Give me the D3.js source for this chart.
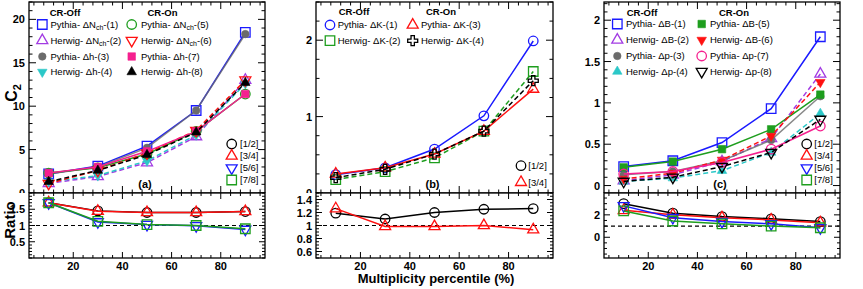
<!DOCTYPE html>
<html>
<head>
<meta charset="utf-8">
<script src="https://cdn.jsdelivr.net/npm/d3@7"></script>
<style>
  body { margin: 0; background: #fff; }
  svg { display: block; font-family: "Liberation Sans", Arial, sans-serif; }
</style>
</head>
<body>
<svg id="chart" width="863" height="289"></svg>
<script>
// multiplicity percentile bins
const pct = [10, 30, 50, 70, 90];

// panel (a): C2 of net charge / net hadron
const aPyNchOff = [2.2, 3.1, 5.4, 9.5, 18.5];
const aHwNchOff = [1.1, 1.9, 3.5, 6.5, 13.0];
const aPyHOff   = [2.2, 3.0, 5.2, 9.5, 18.3];
const aHwHOff   = [1.3, 2.0, 3.7, 6.7, 12.6];
const aPyNchOn  = [2.3, 2.9, 4.5, 7.1, 11.4];
const aHwNchOn  = [1.1, 2.6, 4.6, 7.2, 13.0];
const aPyHOn    = [2.3, 3.0, 4.8, 7.1, 11.4];
const aHwHOn    = [1.3, 2.6, 4.4, 7.0, 12.7];
const aR12 = [1.70, 1.45, 1.40, 1.40, 1.43];
const aR34 = [1.70, 1.44, 1.40, 1.40, 1.43];
const aR56 = [1.70, 1.11, 1.03, 0.99, 0.88];
const aR78 = [1.70, 1.13, 1.03, 1.00, 0.90];

// panel (b): C2 of net kaon
const bPyOff = [0.24, 0.33, 0.575, 1.01, 1.99];
const bHwOff = [0.175, 0.28, 0.46, 0.81, 1.59];
const bPyOn  = [0.25, 0.33, 0.51, 0.81, 1.36];
const bHwOn  = [0.20, 0.31, 0.51, 0.81, 1.47];
const bR12 = [1.19, 1.10, 1.20, 1.25, 1.26];
const bR34 = [1.26, 0.985, 0.985, 1.00, 0.935];

// panel (c): C2 of net baryon / net proton
const cPyBOff = [0.23, 0.30, 0.52, 0.93, 1.80];
const cHwBOff = [0.06, 0.13, 0.29, 0.57, 1.35];
const cPyPOff = [0.13, 0.17, 0.30, 0.55, 1.08];
const cHwPOff = [0.05, 0.09, 0.18, 0.40, 0.87];
const cPyBOn  = [0.22, 0.29, 0.44, 0.68, 1.10];
const cHwBOn  = [0.08, 0.15, 0.31, 0.60, 1.25];
const cPyPOn  = [0.14, 0.17, 0.28, 0.44, 0.72];
const cHwPOn  = [0.05, 0.10, 0.23, 0.40, 0.80];
const cR12 = [3.00, 2.15, 1.85, 1.65, 1.40];
const cR34 = [2.40, 2.00, 1.75, 1.55, 1.30];
const cR56 = [2.80, 1.75, 1.40, 1.20, 0.85];
const cR78 = [2.35, 1.45, 1.20, 1.00, 0.85];

const ratioLabels = ['[1/2]', '[3/4]', '[5/6]', '[7/8]'];

// colours
const BLUE = '#1a1aff', PURPLE = '#a23be3', GRAY = '#6b6b6b', CYAN = '#2bc8c8',
      GREEN = '#1e9e1e', RED = '#ff1010', PINK = '#f5208f', BLACK = '#000';

const svg = d3.select('#chart');
const topY = 2, midY = 193, botY = 258;

function symPath(shape, s) {
    if (shape === 'square') return d3.symbol(d3.symbolSquare, s * s)();
    if (shape === 'circle') return d3.symbol(d3.symbolCircle, Math.PI * s * s / 4)();
    if (shape === 'tri' || shape === 'dtri') return d3.symbol(d3.symbolTriangle, s * s * Math.sqrt(3) / 4)();
    if (shape === 'cross') return d3.symbol(d3.symbolCross, 5 * s * s / 9)();
}

function marker(g, x, y, m) {
    let s = m.open ? 9.5 : 7.5;
    if (m.shape === 'tri' || m.shape === 'dtri') s = m.open ? 11 : 9.5;
    if (m.shape === 'cross') s = 10;
    g.append('path')
        .attr('d', symPath(m.shape, s))
        .attr('transform', `translate(${x},${y})` + (m.shape === 'dtri' ? ' rotate(180)' : ''))
        .attr('fill', m.open ? 'none' : m.color)
        .attr('stroke', m.color)
        .attr('stroke-width', m.open ? 1.3 : 0.6);
}

function legendText(g, x, y, lab, bold) {
    const t = g.append('text').attr('x', x).attr('y', y)
        .style('font-size', '9.5px').style('font-weight', bold ? 'bold' : 'normal');
    t.append('tspan').text(lab.pre);
    if (lab.sub) {
        t.append('tspan').attr('dy', 2.5).style('font-size', '7px').text(lab.sub);
        t.append('tspan').attr('dy', -2.5).text(lab.post);
    }
    return t;
}

// ticks on all four sides, pointing inward
function frameTicks(g, x, y, xMaj, xMin, yMaj, yMin, lenX, lenY) {
    const [x0, x1] = x.range(), [y0, y1] = y.range();
    const seg = (a, b, c, d) => g.append('line').attr('x1', a).attr('y1', b).attr('x2', c).attr('y2', d)
        .attr('stroke', '#000').attr('stroke-width', 1);
    xMaj.forEach(v => { seg(x(v), y0, x(v), y0 - lenX); seg(x(v), y1, x(v), y1 + lenX); });
    xMin.forEach(v => { seg(x(v), y0, x(v), y0 - lenX / 2); seg(x(v), y1, x(v), y1 + lenX / 2); });
    yMaj.forEach(v => { seg(x0, y(v), x0 + lenY, y(v)); seg(x1, y(v), x1 - lenY, y(v)); });
    yMin.forEach(v => { seg(x0, y(v), x0 + lenY / 2, y(v)); seg(x1, y(v), x1 - lenY / 2, y(v)); });
    g.append('rect').attr('x', x0).attr('y', y1).attr('width', x1 - x0).attr('height', y0 - y1)
        .attr('fill', 'none').attr('stroke', '#000').attr('stroke-width', 1.3);
}

function minors(dom, step, majors) {
    const out = [];
    const start = Math.ceil(dom[0] / step - 1e-6) * step;
    for (let v = start; v <= dom[1] + 1e-9; v += step) {
        const r = Math.round(v * 1000) / 1000;
        if (!majors.some(m => Math.abs(m - r) < 1e-6)) out.push(r);
    }
    return out;
}

const xMajor = [20, 40, 60, 80];
const xDom = [2, 98];

const panels = [
    {
        x0: 29, x1: 265, padL: 0, padR: 290, tag: '(a)',
        yDom: [0, 22], yMaj: [0, 5, 10, 15, 20], yStep: 1,
        rDom: [0, 2], rMaj: [0.5, 1, 1.5], rStep: 0.1,
        series: [
            { v: aPyNchOff, color: BLUE, shape: 'square', open: true, dash: false, lab: { pre: 'Pythia- ΔN', sub: 'ch', post: '-(1)' } },
            { v: aHwNchOff, color: PURPLE, shape: 'tri', open: true, dash: true, lab: { pre: 'Herwig- ΔN', sub: 'ch', post: '-(2)' } },
            { v: aPyHOff, color: GRAY, shape: 'circle', open: false, dash: false, lab: { pre: 'Pythia- Δh-(3)' } },
            { v: aHwHOff, color: CYAN, shape: 'dtri', open: false, dash: true, lab: { pre: 'Herwig- Δh-(4)' } },
            { v: aPyNchOn, color: GREEN, shape: 'circle', open: true, dash: false, lab: { pre: 'Pythia- ΔN', sub: 'ch', post: '-(5)' } },
            { v: aHwNchOn, color: RED, shape: 'dtri', open: true, dash: true, lab: { pre: 'Herwig- ΔN', sub: 'ch', post: '-(6)' } },
            { v: aPyHOn, color: PINK, shape: 'square', open: false, dash: false, lab: { pre: 'Pythia- Δh-(7)' } },
            { v: aHwHOn, color: BLACK, shape: 'tri', open: false, dash: true, lab: { pre: 'Herwig- Δh-(8)' } }
        ],
        ratios: [
            { v: aR12, color: BLACK, shape: 'circle' },
            { v: aR34, color: RED, shape: 'tri' },
            { v: aR56, color: BLUE, shape: 'dtri' },
            { v: aR78, color: GREEN, shape: 'square' }
        ],
        head: [65, 162.5], headY: 15.5,
        cols: [{ mx: 42.3, tx: 50.5 }, { mx: 131.7, tx: 141 }],
        rows: [24.5, 40.5, 56.5, 72],
        rl: { mx: 231.7, tx: 240, ys: [144, 156, 168, 180] }
    },
    {
        x0: 316, x1: 553, padL: 290, padR: 575, tag: '(b)',
        yDom: [0, 2.5], yMaj: [0, 1, 2], yStep: 0.25,
        rDom: [0.5, 1.5], rMaj: [0.6, 0.8, 1, 1.2, 1.4], rStep: 0.05,
        series: [
            { v: bPyOff, color: BLUE, shape: 'circle', open: true, dash: false, lab: { pre: 'Pythia- ΔK-(1)' } },
            { v: bHwOff, color: GREEN, shape: 'square', open: true, dash: true, lab: { pre: 'Herwig- ΔK-(2)' } },
            { v: bPyOn, color: RED, shape: 'tri', open: true, dash: false, lab: { pre: 'Pythia- ΔK-(3)' } },
            { v: bHwOn, color: BLACK, shape: 'cross', open: true, dash: true, lab: { pre: 'Herwig- ΔK-(4)' } }
        ],
        ratios: [
            { v: bR12, color: BLACK, shape: 'circle' },
            { v: bR34, color: RED, shape: 'tri' }
        ],
        head: [354, 441], headY: 15,
        cols: [{ mx: 330, tx: 337.7 }, { mx: 412.7, tx: 421 }],
        rows: [25, 40.7],
        rl: { mx: 521, tx: 528.3, ys: [165.7, 182.3] }
    },
    {
        x0: 604, x1: 840, padL: 575, padR: 863, tag: '(c)',
        yDom: [-0.09, 2.22], yMaj: [0, 0.5, 1, 1.5, 2], yStep: 0.1,
        rDom: [-1.85, 3.95], rMaj: [0, 2], rStep: 0.5,
        series: [
            { v: cPyBOff, color: BLUE, shape: 'square', open: true, dash: false, lab: { pre: 'Pythia- ΔB-(1)' } },
            { v: cHwBOff, color: PURPLE, shape: 'tri', open: true, dash: true, lab: { pre: 'Herwig- ΔB-(2)' } },
            { v: cPyPOff, color: GRAY, shape: 'circle', open: false, dash: false, lab: { pre: 'Pythia- Δp-(3)' } },
            { v: cHwPOff, color: CYAN, shape: 'tri', open: false, dash: true, lab: { pre: 'Herwig- Δp-(4)' } },
            { v: cPyBOn, color: GREEN, shape: 'square', open: false, dash: false, lab: { pre: 'Pythia- ΔB-(5)' } },
            { v: cHwBOn, color: RED, shape: 'dtri', open: false, dash: true, lab: { pre: 'Herwig- ΔB-(6)' } },
            { v: cPyPOn, color: PINK, shape: 'circle', open: true, dash: false, lab: { pre: 'Pythia- Δp-(7)' } },
            { v: cHwPOn, color: BLACK, shape: 'dtri', open: true, dash: true, lab: { pre: 'Herwig- Δp-(8)' } }
        ],
        ratios: [
            { v: cR12, color: BLACK, shape: 'circle' },
            { v: cR34, color: RED, shape: 'tri' },
            { v: cR56, color: BLUE, shape: 'dtri' },
            { v: cR78, color: GREEN, shape: 'square' }
        ],
        head: [642, 734], headY: 15.5,
        cols: [{ mx: 617.3, tx: 626 }, { mx: 701.7, tx: 710 }],
        rows: [24, 40, 56, 71.5],
        rl: { mx: 806.7, tx: 814.3, ys: [144, 156, 168, 180] }
    }
];

const fmt = v => String(+v.toFixed(2));

// upper pads
panels.forEach(p => {
    const g = svg.append('g');
    const x = d3.scaleLinear().domain(xDom).range([p.x0, p.x1]);
    const y = d3.scaleLinear().domain(p.yDom).range([midY, topY]);

    frameTicks(g, x, y, xMajor, minors(xDom, 4, xMajor), p.yMaj, minors(p.yDom, p.yStep, p.yMaj), 7, 7);

    p.yMaj.forEach(v => {
        g.append('text').attr('x', p.x0 - 4).attr('y', y(v) + 4)
            .attr('text-anchor', 'end').style('font-size', '11px').style('font-weight', 'bold')
            .text(fmt(v));
    });

    const line = d3.line().x((d, i) => x(pct[i])).y(d => y(d));
    p.series.forEach(s => {
        g.append('path').attr('d', line(s.v)).attr('fill', 'none')
            .attr('stroke', s.color).attr('stroke-width', 1.5)
            .attr('stroke-dasharray', s.dash ? '5,3' : null)
            .attr('opacity', s.color === GRAY ? 0.8 : 1);
        s.v.forEach((d, i) => marker(g, x(pct[i]), y(d), s));
    });

    // legend
    ['CR-Off', 'CR-On'].forEach((h, i) => {
        g.append('text').attr('x', p.head[i]).attr('y', p.headY).attr('text-anchor', 'middle')
            .style('font-size', '9.5px').style('font-weight', 'bold').text(h);
    });
    const perCol = p.series.length / 2;
    p.series.forEach((s, i) => {
        const c = p.cols[Math.floor(i / perCol)], ry = p.rows[i % perCol];
        marker(g, c.mx, ry, s);
        legendText(g, c.tx, ry + 3.4, s.lab);
    });
    p.ratios.forEach((r, i) => {
        marker(g, p.rl.mx, p.rl.ys[i], { shape: r.shape, color: r.color, open: true });
        legendText(g, p.rl.tx, p.rl.ys[i] + 3.4, { pre: ratioLabels[i] });
    });

    g.append('text').attr('x', (p.x0 + p.x1) / 2 - 2).attr('y', 188)
        .attr('text-anchor', 'middle').style('font-size', '11px').style('font-weight', 'bold')
        .text(p.tag);
});

// lower (ratio) pads, drawn after so they cover the upper pads
panels.forEach(p => {
    const g = svg.append('g');
    g.append('rect').attr('x', p.padL).attr('y', midY).attr('width', p.padR - p.padL)
        .attr('height', 289 - midY).attr('fill', '#fff');
    const x = d3.scaleLinear().domain(xDom).range([p.x0, p.x1]);
    const y = d3.scaleLinear().domain(p.rDom).range([botY, midY]);

    g.append('line').attr('x1', p.x0).attr('x2', p.x1).attr('y1', y(1)).attr('y2', y(1))
        .attr('stroke', '#000').attr('stroke-width', 1.2).attr('stroke-dasharray', '4,3');

    const line = d3.line().x((d, i) => x(pct[i])).y(d => y(d));
    p.ratios.forEach(r => {
        g.append('path').attr('d', line(r.v)).attr('fill', 'none')
            .attr('stroke', r.color).attr('stroke-width', 1.5);
        r.v.forEach((d, i) => marker(g, x(pct[i]), y(d), { shape: r.shape, color: r.color, open: true }));
    });

    frameTicks(g, x, y, xMajor, minors(xDom, 4, xMajor), p.rMaj, minors(p.rDom, p.rStep, p.rMaj), 6, 6);

    p.rMaj.forEach(v => {
        g.append('text').attr('x', p.x0 - 4).attr('y', y(v) + 4)
            .attr('text-anchor', 'end').style('font-size', '11px').style('font-weight', 'bold')
            .text(fmt(v));
    });
    xMajor.forEach(v => {
        g.append('text').attr('x', x(v)).attr('y', 270)
            .attr('text-anchor', 'middle').style('font-size', '11px').style('font-weight', 'bold')
            .text(v);
    });
});

// axis titles
const c2 = svg.append('text').attr('transform', 'translate(17,93) rotate(-90)')
    .attr('text-anchor', 'middle').style('font-size', '16px').style('font-weight', 'bold');
c2.append('tspan').text('C');
c2.append('tspan').attr('dy', 4).style('font-size', '11px').text('2');

svg.append('text').attr('transform', 'translate(15,220) rotate(-90)')
    .attr('text-anchor', 'middle').style('font-size', '15px').style('font-weight', 'bold')
    .text('Ratio');

svg.append('text').attr('x', 436).attr('y', 283).attr('text-anchor', 'middle')
    .style('font-size', '13px').style('font-weight', 'bold')
    .text('Multiplicity percentile (%)');
</script>
</body>
</html>
